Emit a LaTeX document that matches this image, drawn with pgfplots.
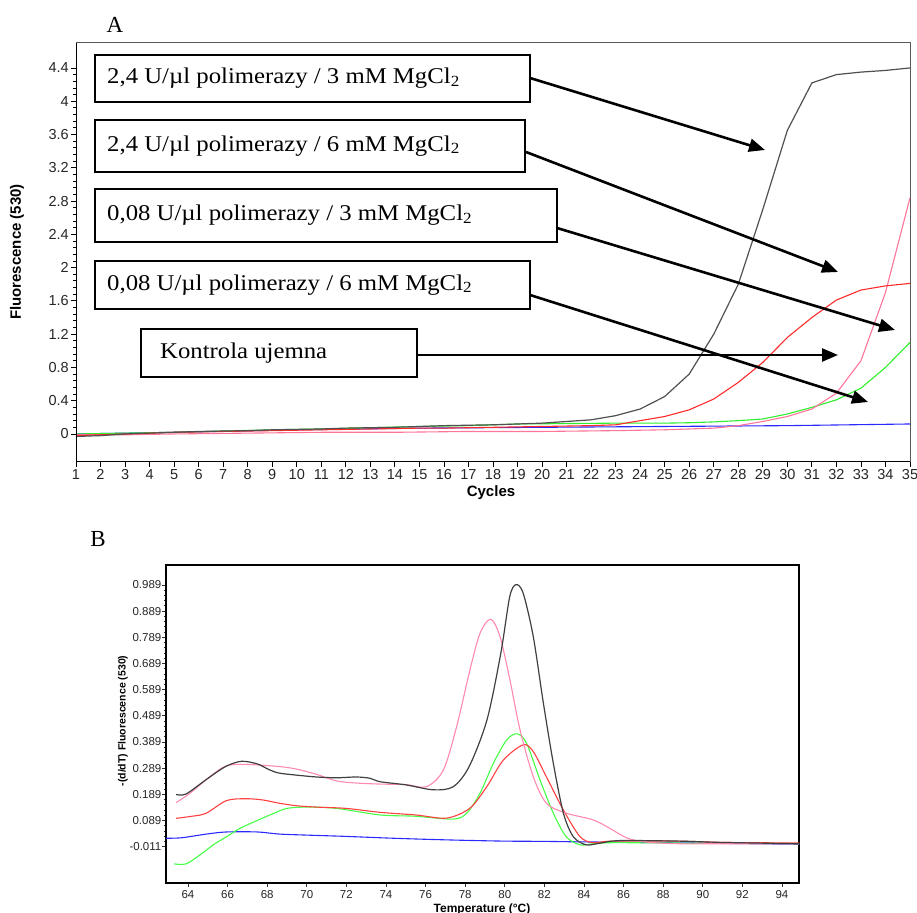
\documentclass[border=0pt]{standalone}
\usepackage{fontspec}
\setmainfont{Liberation Sans}
\newfontfamily\boxfont[FakeStretch=1.1]{Liberation Serif}
\newfontfamily\letterfont{Liberation Serif}
\usepackage{pgfplots}
\pgfplotsset{compat=1.18}
\usetikzlibrary{arrows.meta}
\definecolor{cBlack}{HTML}{505050}
\definecolor{cRed}{HTML}{FF2A2A}
\definecolor{cPink}{HTML}{FF7499}
\definecolor{cGreen}{HTML}{2EEE2E}
\definecolor{cBlue}{HTML}{2A2AFF}
\definecolor{bBlack}{HTML}{404040}
\definecolor{bRed}{HTML}{FF4040}
\definecolor{bPink}{HTML}{FF8AAE}
\definecolor{bGreen}{HTML}{44FF44}
\definecolor{bBlue}{HTML}{2A2AFF}
\newcommand\subtwo{\raisebox{-2.5pt}{\fontsize{15.5}{16}\selectfont 2}}

% ---------- Panel A data ----------
\pgfplotstableread{
c v
1 -0.03
2 -0.02
3 0.0
4 0.01
5 0.02
6 0.03
7 0.035
8 0.04
9 0.05
10 0.055
11 0.06
12 0.07
13 0.075
14 0.08
15 0.09
16 0.10
17 0.105
18 0.11
19 0.12
20 0.13
21 0.15
22 0.17
23 0.22
24 0.30
25 0.45
26 0.72
27 1.20
28 1.80
29 2.70
30 3.65
31 4.22
32 4.32
33 4.35
34 4.37
35 4.40
}\Ablack
\pgfplotstableread{
c v
1 -0.02
2 -0.01
3 0.0
4 0.01
5 0.02
6 0.025
7 0.03
8 0.035
9 0.04
10 0.045
11 0.05
12 0.055
13 0.06
14 0.065
15 0.07
16 0.07
17 0.075
18 0.08
19 0.085
20 0.09
21 0.095
22 0.10
23 0.11
24 0.16
25 0.21
26 0.29
27 0.42
28 0.62
29 0.86
30 1.16
31 1.40
32 1.61
33 1.73
34 1.78
35 1.81
}\Ared
\pgfplotstableread{
c v
1 0.0
3 0.01
5 0.02
7 0.035
9 0.05
11 0.06
13 0.075
15 0.09
17 0.10
19 0.12
21 0.125
23 0.13
25 0.13
26 0.135
27 0.145
28 0.16
29 0.18
30 0.24
31 0.32
32 0.41
33 0.55
34 0.80
35 1.10
}\Agreen
\pgfplotstableread{
c v
1 -0.01
3 -0.01
5 0.0
8 0.01
11 0.02
14 0.02
17 0.03
20 0.03
23 0.04
25 0.05
26 0.06
27 0.07
28 0.10
29 0.15
30 0.21
31 0.30
32 0.49
33 0.88
34 1.70
35 2.84
}\Apink
\pgfplotstableread{
c v
1 0.0
5 0.02
10 0.05
15 0.07
20 0.08
25 0.09
30 0.10
35 0.12
}\Ablue

% ---------- Panel B data ----------
\pgfplotstableread{
t v
63.4 0.188
63.9 0.190
64.9 0.244
65.9 0.295
66.7 0.315
67.5 0.305
68.1 0.283
68.6 0.270
69.5 0.262
70.5 0.255
71.5 0.252
72.5 0.255
73.2 0.250
73.7 0.237
75.0 0.225
76.4 0.206
77.4 0.218
78.2 0.295
79.1 0.473
79.8 0.728
80.25 0.944
80.57 0.990
80.93 0.957
81.44 0.791
81.95 0.537
82.45 0.308
82.96 0.117
83.46 0.027
84.1 -0.004
84.8 0.002
85.8 0.012
88.8 0.010
91.0 0.005
94.86 0.0
}\Bblack
\pgfplotstableread{
t v
63.4 0.157
64.1 0.193
65.1 0.256
65.95 0.298
66.96 0.303
68.6 0.295
69.5 0.285
70.5 0.265
71.5 0.240
72.5 0.232
73.7 0.228
75.0 0.226
76.05 0.218
76.9 0.282
77.57 0.448
78.24 0.664
78.75 0.804
79.29 0.858
79.76 0.791
80.26 0.626
80.77 0.435
81.44 0.256
82.1 0.155
83.1 0.117
84.47 0.091
85.3 0.059
86.2 0.021
87.2 0.006
88.8 0.0
91.0 0.0
94.86 0.0
}\Bpink
\pgfplotstableread{
t v
63.4 0.097
64.1 0.104
64.9 0.116
65.95 0.165
66.96 0.172
67.8 0.167
68.6 0.155
69.5 0.145
70.5 0.140
72.0 0.135
73.7 0.120
75.5 0.110
77.07 0.098
78.24 0.136
79.09 0.218
79.93 0.320
80.93 0.378
81.44 0.352
82.1 0.256
82.96 0.129
83.8 0.027
84.47 0.004
85.4 0.010
88.8 0.010
91.0 0.005
94.86 0.003
}\Bred
\pgfplotstableread{
t v
63.3 -0.077
63.9 -0.077
64.6 -0.043
65.28 -0.004
65.95 0.027
66.63 0.059
67.47 0.088
68.3 0.115
69.0 0.135
70.0 0.140
71.5 0.135
73.7 0.110
75.5 0.105
77.4 0.094
78.08 0.117
78.75 0.193
79.43 0.308
80.1 0.397
80.63 0.420
81.1 0.384
81.78 0.244
82.45 0.117
83.1 0.027
83.8 -0.004
84.47 0.0
85.4 0.004
88.0 0.003
94.86 0.0
}\Bgreen
\pgfplotstableread{
t v
62.9 0.021
63.7 0.023
64.94 0.037
65.95 0.045
67.5 0.045
68.6 0.037
70.0 0.033
72.0 0.028
74.0 0.022
76.0 0.017
78.0 0.013
80.0 0.010
82.0 0.009
84.0 0.007
88.0 0.004
94.86 -0.002
}\Bblue

\begin{document}
\begin{tikzpicture}
\path[use as bounding box] (0pt,0pt) rectangle (917pt,912pt);

% ================= Panel A =================
\begin{axis}[
  at={(76pt,450pt)}, anchor=south west, scale only axis,
  width=834pt, height=419pt,
  xmin=1, xmax=35, ymin=-0.337, ymax=4.70,
  xtick={1,...,35},
  ytick={0,0.4,0.8,1.2,1.6,2,2.4,2.8,3.2,3.6,4,4.4},
  yticklabels={0,0.4,0.8,1.2,1.6,2,2.4,2.8,3.2,3.6,4,4.4},
  minor y tick num=4,
  tick pos=left, tick align=outside,
  major tick length=5pt, minor tick length=3pt,
  every tick/.style={black, line width=0.8pt},
  axis line style={draw=black!65, line width=1pt},
  ticklabel style={font=\fontsize{14.5}{16}\selectfont, text=black!85},
  /pgf/number format/assume math mode=true,
  xticklabel style={inner sep=1pt, yshift=-1pt},
  yticklabel style={inner sep=1pt, xshift=-1pt},
]
\addplot[cBlue, line width=1.1pt] table[x=c,y=v] {\Ablue};
\addplot[cGreen, line width=1.1pt] table[x=c,y=v] {\Agreen};
\addplot[cPink, line width=1.1pt] table[x=c,y=v] {\Apink};
\addplot[cRed, line width=1.1pt] table[x=c,y=v] {\Ared};
\addplot[cBlack, line width=1.2pt] table[x=c,y=v] {\Ablack};
\draw[black, line width=1.5pt] (rel axis cs:0,1) -- (rel axis cs:0,0) -- (rel axis cs:1,0);
\end{axis}

% ================= Panel B =================
\begin{axis}[
  at={(166pt,29pt)}, anchor=south west, scale only axis,
  width=633pt, height=318pt,
  xmin=62.89, xmax=94.86, ymin=-0.150, ymax=1.065,
  xtick={64,66,...,94},
  ytick={-0.011,0.089,0.189,0.289,0.389,0.489,0.589,0.689,0.789,0.889,0.989},
  yticklabels={-0.011,0.089,0.189,0.289,0.389,0.489,0.589,0.689,0.789,0.889,0.989},
  minor y tick num=4,
  tick pos=left, tick align=outside,
  major tick length=4pt, minor tick length=2.5pt,
  every tick/.style={black!80, line width=0.7pt},
  axis line style={draw=black, line width=1.4pt},
  ticklabel style={font=\fontsize{11.5}{13}\selectfont, text=black!85},
  /pgf/number format/assume math mode=true,
  xticklabel style={inner sep=1pt, yshift=-2pt},
  yticklabel style={inner sep=0.5pt},
]
\addplot[bBlue, line width=1.1pt, smooth] table[x=t,y=v] {\Bblue};
\addplot[bGreen, line width=1.1pt, smooth] table[x=t,y=v] {\Bgreen};
\addplot[bRed, line width=1.1pt, smooth] table[x=t,y=v] {\Bred};
\addplot[bPink, line width=1.1pt, smooth] table[x=t,y=v] {\Bpink};
\addplot[bBlack, line width=1.2pt, smooth] table[x=t,y=v] {\Bblack};
\end{axis}

\begin{scope}[x=1pt,y=1pt]
% annotation boxes
\begin{scope}[line width=2pt]
\draw[fill=white] (95,857) rectangle (530,810);
\draw[fill=white] (95,792) rectangle (525,740);
\draw[fill=white] (95,723) rectangle (557,670);
\draw[fill=white] (95,651) rectangle (530,603);
\draw[fill=white] (141,583) rectangle (417,535);
\end{scope}
\begin{scope}[every node/.style={anchor=west, inner sep=0pt, font=\boxfont\fontsize{22.5}{24}\selectfont}]
\node at (107,833.5) {2,4 U/µl polimerazy / 3 mM MgCl\subtwo};
\node at (107,766) {2,4 U/µl polimerazy / 6 mM MgCl\subtwo};
\node at (107,696.5) {0,08 U/µl polimerazy / 3 mM MgCl\subtwo};
\node at (107,627) {0,08 U/µl polimerazy / 6 mM MgCl\subtwo};
\node at (160,559) {Kontrola ujemna};
\end{scope}
\begin{scope}[line width=2.6pt, -{Triangle[length=16pt,width=13pt]}]
\draw (530,834) -- (765,762);
\draw (526,760) -- (838,640);
\draw (557,684) -- (895,582);
\draw (530,617) -- (868,510);
\draw (417,557) -- (838,557);
\end{scope}

\node[anchor=base, font=\letterfont\fontsize{23}{25}\selectfont] at (115,879) {A};
\node[rotate=90, font=\bfseries\fontsize{15}{17}\selectfont] at (17,660) {Fluorescence (530)};
\node[font=\bfseries\fontsize{15}{17}\selectfont] at (491,419) {Cycles};

\node[anchor=base, font=\letterfont\fontsize{23}{25}\selectfont] at (98,365) {B};
\node[rotate=90, font=\bfseries\fontsize{10.5}{12}\selectfont] at (123,191) {-(d/dT) Fluorescence (530)};
\node[font=\bfseries\fontsize{12}{13}\selectfont] at (482,3) {Temperature (°C)};
\end{scope}
\end{tikzpicture}
\end{document}
